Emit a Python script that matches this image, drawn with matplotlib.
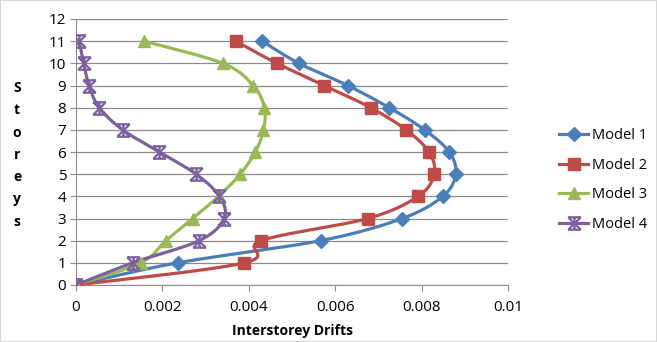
import numpy as np
import matplotlib
matplotlib.use("Agg")
import matplotlib.pyplot as plt
from matplotlib.path import Path

plt.rcParams['font.family'] = ['Open Sans', 'DejaVu Sans']

storeys = [0, 1, 2, 3, 4, 5, 6, 7, 8, 9, 10, 11]
model1 = [0, 0.00235, 0.00566, 0.00755, 0.00849, 0.00879, 0.00864, 0.00807, 0.00725, 0.00629, 0.00516, 0.00431]
model2 = [0, 0.00390, 0.00428, 0.00675, 0.00792, 0.00829, 0.00817, 0.00764, 0.00682, 0.00574, 0.00465, 0.00370]
model3 = [0, 0.00150, 0.00208, 0.00270, 0.00330, 0.00380, 0.00415, 0.00434, 0.00436, 0.00410, 0.00340, 0.00157]
model4 = [0, 0.00131, 0.00285, 0.00343, 0.00332, 0.00278, 0.00193, 0.00108, 0.00054, 0.00030, 0.00018, 0.00007]
names = ['Model 1', 'Model 2', 'Model 3', 'Model 4']


def smooth(x, y, n=20):
    # catmull-rom curve through the points, like excel's smoothed line
    x = np.asarray(x, float) / 0.01
    y = np.asarray(y, float) / 12.0
    px = np.concatenate([[x[0]], x, [x[-1]]])
    py = np.concatenate([[y[0]], y, [y[-1]]])
    xs, ys = [], []
    for i in range(1, len(px) - 2):
        t = np.linspace(0, 1, n, endpoint=False)
        for p, out in ((px, xs), (py, ys)):
            p0, p1, p2, p3 = p[i - 1], p[i], p[i + 1], p[i + 2]
            out.extend(0.5 * ((2 * p1) + (-p0 + p2) * t
                              + (2 * p0 - 5 * p1 + 4 * p2 - p3) * t ** 2
                              + (-p0 + 3 * p1 - 3 * p2 + p3) * t ** 3))
    xs.append(x[-1])
    ys.append(y[-1])
    return np.array(xs) * 0.01, np.array(ys) * 12.0


star = Path([(-1, -1), (1, 1), (-1, 1), (1, -1), (0, -1), (0, 1), (-1, 1), (1, 1), (-1, -1), (1, -1)],
            [Path.MOVETO, Path.LINETO, Path.MOVETO, Path.LINETO, Path.MOVETO, Path.LINETO,
             Path.MOVETO, Path.LINETO, Path.MOVETO, Path.LINETO])

colors = ['#4A7EBB', '#BE4B48', '#98B954', '#7D60A0']
markers = ['D', 's', '^', star]
msizes = [7, 9, 9, 9]

fig = plt.figure(figsize=(6.57, 3.42), dpi=100)
ax = fig.add_axes([76 / 657, 1 - 285 / 342, 432 / 657, 266 / 342])

handles = []
for vals, c, m, ms, name in zip([model1, model2, model3, model4], colors, markers, msizes, names):
    sx, sy = smooth(vals, storeys)
    ax.plot(sx, sy, color=c, lw=2.3, zorder=3)
    if m is star:
        ax.plot(vals, storeys, ls='none', marker=m, ms=ms, mfc=c, mec=c, mew=1.6, zorder=4)
    else:
        ax.plot(vals, storeys, ls='none', marker=m, ms=ms, mfc=c, mec=c, zorder=4)
    h, = ax.plot([], [], color=c, lw=2.3, marker=m, ms=ms, mfc=c, mec=c,
                 mew=1.6 if m is star else 1)
    handles.append(h)

ax.set_xlim(0, 0.01)
ax.set_ylim(0, 12)
ax.set_xticks([0, 0.002, 0.004, 0.006, 0.008, 0.01])
ax.set_xticklabels(['0', '0.002', '0.004', '0.006', '0.008', '0.01'])
ax.set_yticks(range(13))
ax.yaxis.grid(True, color='#8C8C8C', lw=0.9)
ax.set_axisbelow(True)
for s in ['top', 'right']:
    ax.spines[s].set_visible(False)
for s in ['left', 'bottom']:
    ax.spines[s].set_color('#8C8C8C')
ax.tick_params(axis='both', colors='#8C8C8C', labelcolor='black', labelsize=11, length=4)
ax.tick_params(axis='x', pad=7)
ax.tick_params(axis='y', pad=3)
ax.set_xlabel('Interstorey Drifts', fontsize=10, fontweight='bold', labelpad=6)

fig.text(17 / 657, 1 - 155 / 342, '\n'.join('Storeys'), fontsize=10, fontweight='bold',
         ha='center', va='center', linespacing=1.75)

fig.legend(handles, names, loc='center left', bbox_to_anchor=(546 / 657, 1 - 180 / 342),
           frameon=False, fontsize=10.5, handlelength=2.0, labelspacing=1.0, handletextpad=0.25)

fig.patches.append(plt.Rectangle((0, 0), 1, 1, transform=fig.transFigure, fill=False,
                                 edgecolor='#D9D9D9', lw=1.5))

fig.savefig('out.png', dpi=100)
